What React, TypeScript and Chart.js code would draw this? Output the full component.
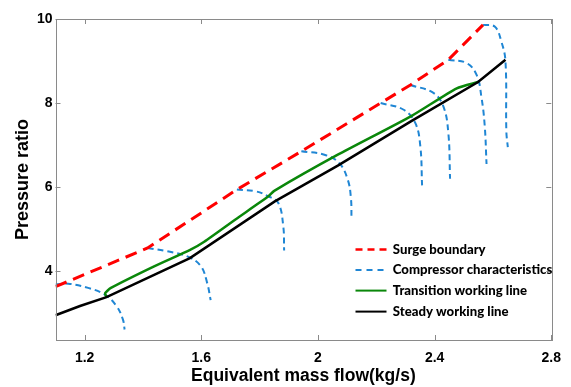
import React, { useEffect, useRef } from 'react';
import { Chart, registerables } from 'chart.js';

Chart.register(...registerables);

// ---- Data ----
const xTickValues = [1.2, 1.6, 2.0, 2.4, 2.8];
const yTickValues = [4, 6, 8, 10];

const surgeX = [1.1, 1.416, 1.722, 1.943, 2.215, 2.317, 2.447, 2.566];
const surgeY = [3.63, 4.55, 5.94, 6.85, 8.0, 8.43, 9.03, 9.86];

const steadyX = [1.1, 1.184, 1.275, 1.561, 1.852, 2.068, 2.32, 2.549, 2.643];
const steadyY = [2.95, 3.17, 3.38, 4.31, 5.66, 6.51, 7.57, 8.5, 9.03];

const transX = [1.275, 1.27, 1.29, 1.44, 1.56, 1.61, 1.717, 1.83, 1.85, 2.068, 2.32, 2.476, 2.549];
const transY = [3.38, 3.47, 3.6, 4.12, 4.5, 4.7, 5.23, 5.78, 5.91, 6.77, 7.69, 8.35, 8.5];

const char1X = [1.1, 1.144, 1.212, 1.269, 1.309, 1.331, 1.337];
const char1Y = [3.68, 3.7, 3.6, 3.44, 3.17, 2.85, 2.61];
const char2X = [1.416, 1.484, 1.552, 1.598, 1.62, 1.632];
const char2Y = [4.55, 4.47, 4.35, 4.12, 3.72, 3.31];
const char3X = [1.722, 1.785, 1.83, 1.864, 1.881, 1.884];
const char3Y = [5.94, 5.9, 5.78, 5.62, 5.07, 4.49];
const char4X = [1.943, 2.022, 2.073, 2.102, 2.113, 2.115];
const char4Y = [6.85, 6.77, 6.57, 6.18, 5.74, 5.25];
const char5X = [2.215, 2.294, 2.334, 2.351, 2.357];
const char5Y = [8.0, 7.84, 7.52, 6.97, 6.04];
const char6X = [2.317, 2.396, 2.43, 2.447, 2.453];
const char6Y = [8.43, 8.24, 7.92, 7.29, 6.2];
const char7X = [2.447, 2.51, 2.544, 2.561, 2.572, 2.578];
const char7Y = [9.03, 8.95, 8.67, 8.12, 7.44, 6.55];
const char8X = [2.566, 2.606, 2.629, 2.643, 2.646, 2.651];
const char8Y = [9.86, 9.82, 9.46, 8.99, 7.32, 6.95];

const charXs = [char1X, char2X, char3X, char4X, char5X, char6X, char7X, char8X];
const charYs = [char1Y, char2Y, char3Y, char4Y, char5Y, char6Y, char7Y, char8Y];

const legendLabels = [
  'Surge boundary',
  'Compressor characteristics',
  'Transition working line',
  'Steady working line',
];

// ---- Styles ----
const RED = '#ff0000';
const BLUE = '#1f86d4';
const GREEN = '#0a870a';
const BLACK = '#000000';
const FRAME = '#8a8a8a';
const FONT = "'Liberation Sans', Arial, sans-serif";
const LEGEND_FONT = "Lato, 'Liberation Sans', sans-serif";

const zip = (xs: number[], ys: number[]) => xs.map((x, i) => ({ x, y: ys[i] }));

const framePlugin = {
  id: 'frameAndLegend',
  afterDraw(chart: any) {
    const { ctx, chartArea } = chart;
    const { left, right, top, bottom } = chartArea;
    const xs = chart.scales.x;
    const ys = chart.scales.y;
    ctx.save();
    ctx.strokeStyle = FRAME;
    ctx.lineWidth = 1;
    ctx.setLineDash([]);
    ctx.strokeRect(Math.round(left) + 0.5, Math.round(top) + 0.5, Math.round(right - left), Math.round(bottom - top));
    const tl = 5;
    ctx.beginPath();
    xTickValues.forEach((v) => {
      const px = Math.round(xs.getPixelForValue(v)) + 0.5;
      ctx.moveTo(px, bottom);
      ctx.lineTo(px, bottom - tl);
      ctx.moveTo(px, top);
      ctx.lineTo(px, top + tl);
    });
    yTickValues.forEach((v) => {
      const py = Math.round(ys.getPixelForValue(v)) + 0.5;
      ctx.moveTo(left, py);
      ctx.lineTo(left + tl, py);
      ctx.moveTo(right, py);
      ctx.lineTo(right - tl, py);
    });
    ctx.stroke();

    // legend
    const styles = [
      { color: RED, dash: [7, 5], width: 2.5 },
      { color: BLUE, dash: [6, 5], width: 2 },
      { color: GREEN, dash: [], width: 2 },
      { color: BLACK, dash: [], width: 2 },
    ];
    const rowY = [249.5, 270, 290.6, 311.6];
    // fit legend font so the longest label spans the same width as in the reference
    ctx.font = `900 14px ${LEGEND_FONT}`;
    const w14 = ctx.measureText(legendLabels[1]).width || 160;
    const size = Math.min(16, 14 * 159.5 / w14);
    ctx.font = `900 ${size.toFixed(2)}px ${LEGEND_FONT}`;
    ctx.textBaseline = 'middle';
    ctx.textAlign = 'left';
    legendLabels.forEach((label, i) => {
      const s = styles[i];
      ctx.beginPath();
      ctx.strokeStyle = s.color;
      ctx.lineWidth = s.width;
      ctx.setLineDash(s.dash);
      ctx.moveTo(355.5, rowY[i]);
      ctx.lineTo(386.5, rowY[i]);
      ctx.stroke();
      ctx.setLineDash([]);
      ctx.fillStyle = '#000';
      ctx.fillText(label, 392.8, rowY[i]);
    });
    ctx.restore();
  },
};

export default function App() {
  const canvasRef = useRef<HTMLCanvasElement | null>(null);

  useEffect(() => {
    if (!canvasRef.current) return;
    const datasets: any[] = [
      {
        label: legendLabels[3],
        data: zip(steadyX, steadyY),
        borderColor: BLACK,
        borderWidth: 2.5,
        pointRadius: 0,
        tension: 0,
        fill: false,
      },
      {
        label: legendLabels[2],
        data: zip(transX, transY),
        borderColor: GREEN,
        borderWidth: 2.5,
        pointRadius: 0,
        tension: 0.2,
        fill: false,
      },
      {
        label: legendLabels[0],
        data: zip(surgeX, surgeY),
        borderColor: RED,
        borderWidth: 3,
        borderDash: [12, 7],
        pointRadius: 0,
        tension: 0,
        fill: false,
      },
    ];
    charXs.forEach((cx, i) => {
      datasets.push({
        label: legendLabels[1],
        data: zip(cx, charYs[i]),
        borderColor: BLUE,
        borderWidth: 2,
        borderDash: [6, 4],
        pointRadius: 0,
        tension: 0.4,
        fill: false,
      });
    });

    const chart = new Chart(canvasRef.current, {
      type: 'line',
      data: { datasets },
      options: {
        animation: false,
        responsive: false,
        layout: { padding: { top: 19, right: 14.5, left: 0, bottom: 0 } },
        plugins: { legend: { display: false }, tooltip: { enabled: false } },
        scales: {
          x: {
            type: 'linear',
            min: 1.1,
            max: 2.8,
            afterBuildTicks: (s: any) => {
              s.ticks = xTickValues.map((v) => ({ value: v }));
            },
            afterFit: (s: any) => {
              s.height = 47;
            },
            grid: { display: false, drawTicks: false },
            border: { display: false },
            ticks: {
              color: '#000',
              padding: 10,
              maxRotation: 0,
              font: { family: FONT, size: 14, weight: 'bold' },
              callback: (v: any) => String(Math.round(Number(v) * 10) / 10),
            },
            title: {
              display: true,
              text: 'Equivalent mass flow(kg/s)',
              color: '#000',
              font: { family: FONT, size: 17.5, weight: 'bold' },
              padding: { top: 0, bottom: 0 },
            },
          },
          y: {
            type: 'linear',
            min: 2.36,
            max: 10,
            afterBuildTicks: (s: any) => {
              s.ticks = yTickValues.map((v) => ({ value: v }));
            },
            afterFit: (s: any) => {
              s.width = 55.5;
            },
            grid: { display: false, drawTicks: false },
            border: { display: false },
            ticks: {
              color: '#000',
              padding: 3,
              font: { family: FONT, size: 14, weight: 'bold' },
              callback: (v: any) => String(v),
            },
            title: {
              display: true,
              text: 'Pressure ratio',
              color: '#000',
              font: { family: FONT, size: 18, weight: 'bold' },
              padding: { top: 12, bottom: 0 },
            },
          },
        },
      },
      plugins: [framePlugin],
    } as any);
    return () => chart.destroy();
  }, []);

  return (
    <div style={{ position: 'fixed', left: 0, top: 0, width: 571, height: 387, background: '#fff' }}>
      <canvas ref={canvasRef} width={571} height={387} style={{ display: 'block' }} />
    </div>
  );
}
